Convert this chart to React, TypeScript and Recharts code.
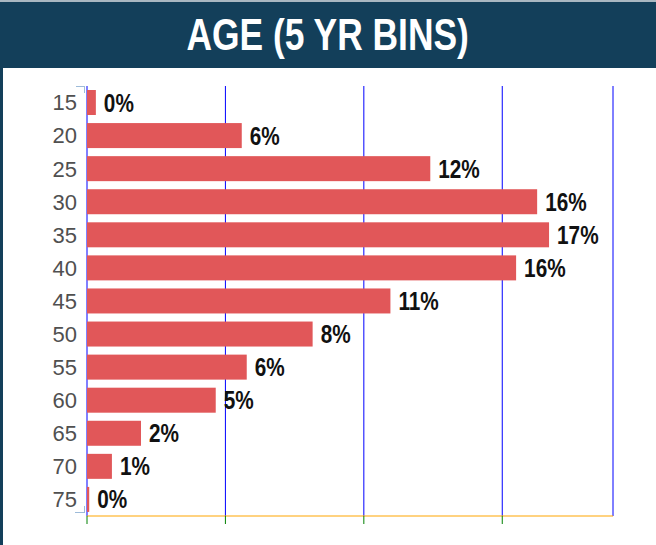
import React from "react";
import { Bar, BarChart, CartesianGrid, XAxis, YAxis } from "recharts";

// age bin start (years)
const ageBins = ["15", "20", "25", "30", "35", "40", "45", "50", "55", "60", "65", "70", "75"];
// share of people in each bin, percent
const shares = [0.32, 5.59, 12.4, 16.26, 16.69, 15.5, 10.96, 8.15, 5.77, 4.65, 1.95, 0.9, 0.08];
const gridTicks = [0, 5, 10, 15];
const AXIS_MAX = 19;

const NAVY = "#133f5a";
const BAR_RED = "#e15759";
const MARK = "#9dbbd9";
const SANS = "'Liberation Sans', Arial, sans-serif";

const data = ageBins.map((age, i) => ({ age, share: shares[i] }));

const GridTick = (props: any) => {
  const { x, y, payload } = props;
  if (!gridTicks.includes(Number(payload?.value))) return <g />;
  return <line x1={x} x2={x} y1={y} y2={Number(y) + 8} stroke="green" />;
};

const BarWithLabel = (props: any) => {
  const { x, y, width, height, payload } = props;
  const bx = Number(x);
  const by = Number(y);
  const bw = Math.max(Number(width), 0);
  const bh = Number(height);
  const tx = bx + bw + 8;
  const ty = by + bh / 2;
  return (
    <g>
      <rect x={bx} y={by} width={bw} height={bh} fill={BAR_RED} />
      <text
        transform={`translate(${tx},${ty}) scale(0.83,1)`}
        dy="0.36em"
        fill="#111"
        fontSize={25}
        fontWeight={700}
        fontFamily={SANS}
      >
        {`${Math.round(Number(payload?.share))}%`}
      </text>
    </g>
  );
};

export default function App() {
  return (
    <div style={{ position: "absolute", left: 0, top: 0, width: 656, height: 545, background: "#fff" }}>
      <div style={{ height: 2, background: "#a9b7c1" }} />
      <div
        style={{
          height: 66,
          background: NAVY,
          color: "#fff",
          display: "flex",
          alignItems: "center",
          justifyContent: "center",
          fontFamily: SANS,
          fontSize: 45,
          fontWeight: 700,
          lineHeight: "66px",
        }}
      >
        <span style={{ display: "inline-block", transform: "scaleX(0.786)", whiteSpace: "nowrap" }}>
          AGE (5 YR BINS)
        </span>
      </div>
      <div style={{ position: "absolute", left: 0, top: 68, width: 3, height: 477, background: NAVY }} />
      <div style={{ position: "absolute", left: 0, top: 68 }}>
        <BarChart
          width={656}
          height={477}
          layout="vertical"
          data={data}
          margin={{ top: 18, right: 43, bottom: 19, left: 0 }}
          barSize={25}
        >
          <CartesianGrid horizontal={false} stroke="blue" />
          <XAxis
            type="number"
            domain={[0, AXIS_MAX]}
            ticks={gridTicks}
            tick={GridTick}
            tickSize={0}
            tickMargin={0}
            tickLine={false}
            axisLine={{ stroke: "orange" }}
            height={10}
          />
          <YAxis
            type="category"
            dataKey="age"
            width={87}
            tickLine={false}
            axisLine={false}
            tickSize={0}
            tickMargin={10}
            tick={{ fill: "#505050", fontSize: 22, fontFamily: SANS }}
          />
          <Bar dataKey="share" fill={BAR_RED} shape={BarWithLabel} isAnimationActive={false} />
        </BarChart>
      </div>
      <div
        style={{
          position: "absolute",
          left: 76,
          top: 86,
          width: 8,
          height: 6,
          borderTop: `1.5px solid ${MARK}`,
          borderRight: `1.5px solid ${MARK}`,
        }}
      />
      <div
        style={{
          position: "absolute",
          left: 75,
          top: 506,
          width: 9,
          height: 6,
          borderBottom: `1.5px solid ${MARK}`,
          borderRight: `1.5px solid ${MARK}`,
        }}
      />
    </div>
  );
}
